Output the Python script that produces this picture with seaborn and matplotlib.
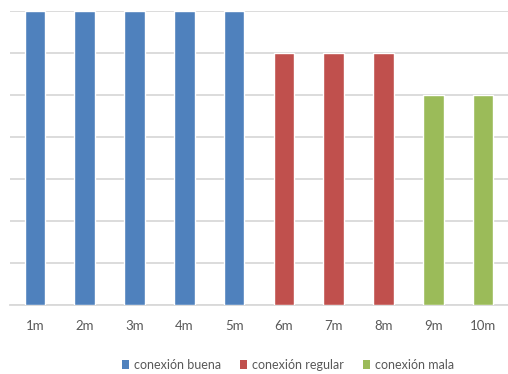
import matplotlib
matplotlib.use("Agg")
import matplotlib.pyplot as plt
import seaborn as sns
import pandas as pd
from matplotlib.patches import Patch

# Data
categories = ["1m", "2m", "3m", "4m", "5m", "6m", "7m", "8m", "9m", "10m"]
values = [7, 7, 7, 7, 7, 6, 6, 6, 5, 5]
groups = ["conexión buena"] * 5 + ["conexión regular"] * 3 + ["conexión mala"] * 2
group_order = ["conexión buena", "conexión regular", "conexión mala"]
group_colors = ["#4F81BD", "#C0504D", "#9BBB59"]

df = pd.DataFrame({"cat": categories, "val": values, "grp": groups})

sns.set_theme(style="white")
plt.rcParams["font.family"] = ["Lato", "DejaVu Sans"]

fig = plt.figure(figsize=(5.08, 3.74), dpi=100)
ax = fig.add_axes([10 / 508, (374 - 305) / 374, 498 / 508, (305 - 11) / 374])

palette = dict(zip(group_order, group_colors))
sns.barplot(data=df, x="cat", y="val", hue="grp", hue_order=group_order,
            palette=palette, dodge=False, width=0.41, ax=ax,
            saturation=1, legend=False, zorder=3)

ax.set_ylim(0, 7)
ax.set_yticks(range(0, 8))
ax.set_yticklabels([])
ax.tick_params(axis="y", length=0)
ax.tick_params(axis="x", length=0, pad=11, labelsize=9.5, labelcolor="#595959")
ax.grid(axis="y", color="#D9D9D9", linewidth=1.3, zorder=0)
ax.set_axisbelow(True)
for side in ["top", "left", "right"]:
    ax.spines[side].set_visible(False)
ax.spines["bottom"].set_color("#D9D9D9")
ax.spines["bottom"].set_linewidth(1.3)
ax.set_xlabel("")
ax.set_ylabel("")

handles = [Patch(facecolor=c, edgecolor="none") for c in group_colors]
fig.legend(handles, group_order, loc="center", bbox_to_anchor=(288 / 508, 1 - 365 / 374),
           ncol=3, frameon=False, fontsize=9,
           handlelength=0.56, handleheight=0.7,
           handletextpad=0.4, columnspacing=1.5, labelcolor="#595959")

fig.savefig("out.png", dpi=100)
